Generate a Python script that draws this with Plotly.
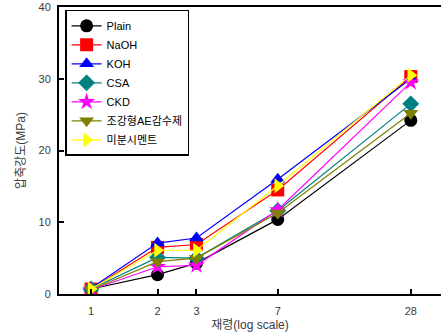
import plotly.graph_objects as go

ages = [1, 2, 3, 7, 28]
series_names = ["Plain", "NaOH", "KOH", "CSA", "CKD", "조강형AE감수제", "미분시멘트"]
plain = [0.7, 2.7, 4.3, 10.4, 24.2]
naoh = [0.7, 6.5, 6.9, 14.5, 30.3]
koh = [0.8, 7.1, 7.8, 16.0, 30.0]
csa = [0.7, 5.1, 5.0, 11.6, 26.5]
ckd = [0.6, 3.8, 4.0, 11.7, 29.5]
ae = [0.6, 4.5, 5.0, 11.3, 25.2]
mibun = [0.7, 6.1, 6.1, 15.1, 30.5]
x_ticks = [1, 2, 3, 7, 28]
y_ticks = [0, 10, 20, 30, 40]

values = [plain, naoh, koh, csa, ckd, ae, mibun]
colors = ["#000000", "#FF0000", "#0000FF", "#008080", "#FF00FF", "#808000", "#FFFF00"]
symbols = ["circle", "square", "triangle-up", "diamond", "star", "triangle-down", "triangle-right"]

font_fam = "Liberation Sans, Arial, Noto Sans CJK KR"

fig = go.Figure()
for name, vals, c, s in zip(series_names, values, colors, symbols):
    fig.add_trace(go.Scatter(
        x=ages, y=vals, name=name, mode="lines+markers",
        line=dict(color=c, width=1.2),
        marker=dict(color=c, symbol=s, size=13, line=dict(width=0)),
    ))

fig.update_layout(
    width=441, height=334,
    margin=dict(l=59, r=0, t=7, b=40),
    paper_bgcolor="white", plot_bgcolor="white",
    font=dict(family=font_fam, size=11, color="#3a3a3a"),
    showlegend=True,
    legend=dict(
        x=0.016, y=0.99, xanchor="left", yanchor="top",
        bordercolor="#000000", borderwidth=1.5, bgcolor="white",
        font=dict(family=font_fam, size=11, color="#000000"),
        tracegroupgap=0, itemwidth=30,
    ),
    xaxis=dict(
        type="log", range=[-0.145, 1.584], automargin=False,
        tickvals=x_ticks, ticktext=[str(v) for v in x_ticks],
        ticks="inside", ticklen=5, tickwidth=1.5, tickcolor="#000000",
        showline=True, linecolor="#000000", linewidth=2, mirror=True,
        showgrid=False, zeroline=False, ticklabelstandoff=6,
        title=dict(text="재령(log scale)", standoff=4, font=dict(size=12, color="#3a3a3a")),
        tickfont=dict(size=11, color="#3a3a3a"),
    ),
    yaxis=dict(
        range=[0, 40], tickvals=y_ticks, automargin=False,
        ticks="inside", ticklen=5, tickwidth=1.5, tickcolor="#000000",
        showline=True, linecolor="#000000", linewidth=2,
        showgrid=False, zeroline=False, ticklabelstandoff=4,
        title=dict(text="압축강도(MPa)", standoff=10, font=dict(size=12, color="#3a3a3a")),
        tickfont=dict(size=11, color="#3a3a3a"),
    ),
)

fig.write_html(
    "out.html",
    config={"displayModeBar": False},
    post_script="document.body.style.margin='0';document.body.style.overflow='hidden';",
)
